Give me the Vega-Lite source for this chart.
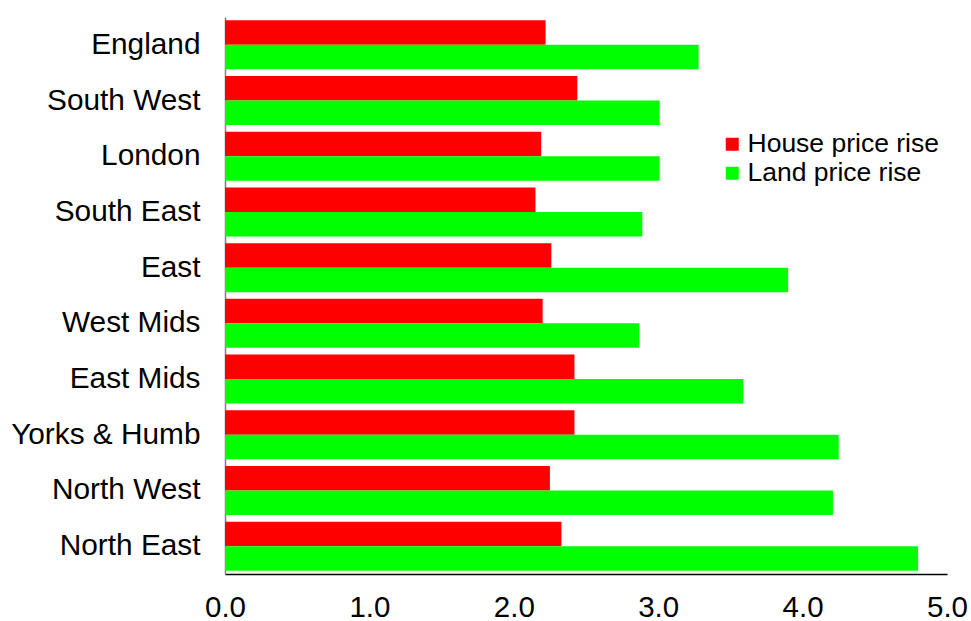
{
  "$schema": "https://vega.github.io/schema/vega-lite/v6.json",
  "width": 722,
  "height": 557,
  "autosize": {"type": "none"},
  "padding": {"left": 225, "top": 17, "right": 24, "bottom": 47},
  "background": "white",
  "data": {
    "values": [
      {"region": "England", "series": "House price rise", "value": 2.22},
      {"region": "England", "series": "Land price rise", "value": 3.28},
      {"region": "South West", "series": "House price rise", "value": 2.44},
      {"region": "South West", "series": "Land price rise", "value": 3.01},
      {"region": "London", "series": "House price rise", "value": 2.19},
      {"region": "London", "series": "Land price rise", "value": 3.01},
      {"region": "South East", "series": "House price rise", "value": 2.15},
      {"region": "South East", "series": "Land price rise", "value": 2.89},
      {"region": "East", "series": "House price rise", "value": 2.26},
      {"region": "East", "series": "Land price rise", "value": 3.9},
      {"region": "West Mids", "series": "House price rise", "value": 2.2},
      {"region": "West Mids", "series": "Land price rise", "value": 2.87},
      {"region": "East Mids", "series": "House price rise", "value": 2.42},
      {"region": "East Mids", "series": "Land price rise", "value": 3.59},
      {"region": "Yorks & Humb", "series": "House price rise", "value": 2.42},
      {"region": "Yorks & Humb", "series": "Land price rise", "value": 4.25},
      {"region": "North West", "series": "House price rise", "value": 2.25},
      {"region": "North West", "series": "Land price rise", "value": 4.21},
      {"region": "North East", "series": "House price rise", "value": 2.33},
      {"region": "North East", "series": "Land price rise", "value": 4.8}
    ]
  },
  "config": {
    "view": {"stroke": null},
    "font": "Liberation Sans"
  },
  "mark": {"type": "bar"},
  "encoding": {
    "y": {
      "field": "region",
      "type": "nominal",
      "sort": null,
      "scale": {"paddingInner": 0.12, "paddingOuter": 0.06},
      "axis": {
        "title": null,
        "ticks": false,
        "labelFontSize": 29.8,
        "labelColor": "#000000",
        "labelPadding": 25,
        "labelLimit": 300,
        "domainColor": "#808080",
        "domainWidth": 1.5,
        "labelFont": "Liberation Sans"
      }
    },
    "yOffset": {
      "field": "series",
      "type": "nominal",
      "sort": ["House price rise", "Land price rise"],
      "scale": {"paddingInner": 0, "paddingOuter": 0}
    },
    "x": {
      "field": "value",
      "type": "quantitative",
      "scale": {"domain": [0, 5], "nice": false},
      "axis": {
        "title": null,
        "values": [0, 1, 2, 3, 4, 5],
        "format": ".1f",
        "grid": false,
        "ticks": false,
        "labelFontSize": 29.5,
        "labelColor": "#000000",
        "labelPadding": 19,
        "domainColor": "#000000",
        "domainWidth": 1.5,
        "labelFont": "Liberation Sans",
        "labelFlush": false
      }
    },
    "color": {
      "field": "series",
      "type": "nominal",
      "scale": {"domain": ["House price rise", "Land price rise"], "range": ["#ff0000", "#00ff00"]},
      "legend": {
        "title": null,
        "orient": "none",
        "legendX": 494,
        "legendY": 114,
        "symbolType": "square",
        "symbolSize": 169,
        "symbolStrokeWidth": 0,
        "labelFontSize": 26.5,
        "labelColor": "#000000",
        "labelFont": "Liberation Sans",
        "labelLimit": 300,
        "rowPadding": 2,
        "labelOffset": 2
      }
    }
  }
}
